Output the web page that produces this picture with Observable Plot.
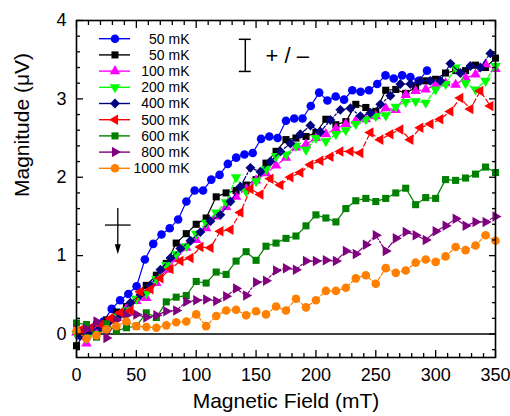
<!DOCTYPE html>
<html><head><meta charset="utf-8">
<script src="https://cdn.jsdelivr.net/npm/d3@7"></script>
<script src="https://cdn.jsdelivr.net/npm/@observablehq/plot@0.6"></script>
<style>
body{margin:0;background:#fff}
svg{font-family:"Liberation Sans",Arial,sans-serif}
</style>
</head><body><div id="chart"></div>
<script>
// ---- x grids (mT) ----
const xA = [0,8.3,16.7,25,33.3,41.7,50,58.3,66.7,75,83.3,91.7,100,108.3,116.7,125,133.3,141.7,150,158.3,166.7,175,183.3,191.7,200,208.3,216.7,225,233.3,241.7,250,258.3,266.7,275,283.3,291.7,300,308.3,316.7,325,333.3,341.7,350];
const xB = [3.3,11.7,20.0,28.4,36.7,45.1,53.4,61.8,70.1,78.5,86.8,95.2,103.5,111.9,120.2,128.6,136.9,145.3,153.6,162.0,170.3,178.7,187.0,195.4,203.7,212.1,220.4,228.8,237.1,245.5,253.8,262.2,270.5,278.9,287.2,295.6,303.9,312.3,320.6,329.0,337.3,345.7];
const xC = [1.7,8.6,15.6,22.5,29.4,36.4,43.3,50.2,57.1,64.1,71.0,77.9,84.9,91.8,98.7,105.7,112.6,119.5,126.4,133.4,140.3,147.2,154.2,161.1,168.0,175.0,181.9,188.8,195.7,202.7,209.6,216.5,223.5,230.4,237.3,244.3,251.2,258.1,265.0,272.0,278.9,285.8,292.8];

// ---- magnitudes (µV) ----
const y50a = [-0.02,0.05,0.08,0.16,0.32,0.43,0.51,0.61,0.95,1.15,1.27,1.35,1.46,1.69,1.83,1.83,1.97,2.03,2.17,2.25,2.29,2.31,2.49,2.52,2.50,2.72,2.75,2.75,2.91,3.08,2.98,3.03,2.99,3.11,3.09,3.11,3.19,3.30,3.26,3.30,3.28,3.23,3.36];
const y50b = [-0.15,0.05,0.12,0.18,0.28,0.35,0.44,0.62,0.75,0.90,1.16,1.28,1.40,1.48,1.75,1.80,1.83,1.90,1.97,2.18,2.33,2.48,2.50,2.52,2.57,2.74,2.67,2.71,2.93,2.89,2.84,3.11,3.12,3.07,3.15,3.23,3.25,3.33,3.36,3.36,3.43,3.40,3.52];
const y100 = [0.02,-0.12,0.05,0.12,0.22,0.32,0.42,0.46,0.65,0.82,0.96,1.10,1.20,1.35,1.50,1.62,1.75,1.85,1.96,2.05,2.15,2.25,2.38,2.42,2.50,2.55,2.62,2.68,2.72,2.74,2.78,2.88,2.86,3.05,3.10,3.12,3.18,3.20,3.18,3.27,3.31,3.44,3.38];
const y200 = [0.0,-0.05,0.0,0.12,0.22,0.30,0.45,0.52,0.70,0.88,1.02,1.12,1.28,1.42,1.55,1.68,2.00,1.82,1.95,2.10,2.27,2.29,2.40,2.35,2.50,2.46,2.55,2.60,2.68,2.74,2.78,2.79,2.90,2.96,2.97,2.95,3.12,3.19,3.40,3.20,3.12,3.23,3.42];
const y400 = [-0.02,0.05,0.08,0.17,0.25,0.40,0.50,0.62,0.82,0.97,1.09,1.19,1.30,1.44,1.52,1.69,1.88,2.12,2.07,2.20,2.33,2.43,2.55,2.66,2.58,2.73,2.86,2.88,2.78,2.82,2.93,3.04,3.19,3.19,3.23,3.23,3.23,3.45,3.33,3.42,3.40,3.58];
const y500 = [0.05,0.08,0.12,0.20,0.27,0.30,0.54,0.57,0.71,0.83,0.93,0.97,1.11,1.10,1.31,1.33,1.55,1.85,1.78,1.98,1.90,2.00,2.06,2.16,2.21,2.26,2.33,2.33,2.31,2.57,2.48,2.55,2.61,2.48,2.63,2.68,2.74,2.84,3.01,2.87,3.10,2.91];
const y600 = [0.14,0.12,-0.04,0.13,0.04,0.08,0.10,0.27,0.21,0.41,0.47,0.49,0.67,0.65,0.79,0.76,0.93,1.05,0.94,1.12,1.16,1.22,1.25,1.38,1.52,1.48,1.43,1.60,1.70,1.73,1.69,1.73,1.80,1.86,1.65,1.74,1.73,1.97,1.96,1.99,2.04,2.13,2.06];
const y800 = [0.05,0.06,0.16,-0.05,0.18,0.24,0.25,0.21,0.24,0.29,0.30,0.41,0.43,0.44,0.42,0.48,0.58,0.49,0.66,0.68,0.81,0.84,0.82,0.93,0.93,0.94,0.93,1.06,1.02,1.14,1.26,1.06,1.22,1.30,1.26,1.20,1.31,1.38,1.47,1.38,1.43,1.43,1.50];
const y1000 = [0.04,-0.06,-0.02,0.06,0.10,0.16,0.10,0.09,0.08,0.11,0.15,0.16,0.25,0.10,0.23,0.30,0.31,0.24,0.29,0.25,0.35,0.30,0.45,0.34,0.43,0.55,0.55,0.59,0.71,0.75,0.64,0.84,0.78,0.81,0.91,0.95,0.92,0.99,1.11,1.07,1.13,1.26,1.19];

const names = ["50 mK","50 mK","100 mK","200 mK","400 mK","500 mK","600 mK","800 mK","1000 mK"];
const colors = ["#0000ff","#000000","#ff00ff","#00ff00","#000080","#ff0000","#008000","#800080","#ff8000"];
const xTicks = [0,50,100,150,200,250,300,350];
const xMinor = [10,20,30,40,60,70,80,90,110,120,130,140,160,170,180,190,210,220,230,240,260,270,280,290,310,320,330,340];
const yTicks = [0,1,2,3,4];
const yMinor = [-0.2,0.2,0.4,0.6,0.8,1.2,1.4,1.6,1.8,2.2,2.4,2.6,2.8,3.2,3.4,3.6,3.8];

const diamond = {draw(ctx, size){ const s = Math.sqrt(size)/2*1.55; ctx.moveTo(0,-s); ctx.lineTo(s,0); ctx.lineTo(0,s); ctx.lineTo(-s,0); ctx.closePath(); }};
const arrowHead = {draw(ctx){ ctx.moveTo(0,5); ctx.lineTo(-3,-5); ctx.lineTo(3,-5); ctx.closePath(); }};

const series = [
  {x:xC, y:y50a,  sym:"circle",   rot:0,   r:4.3, dash:null},
  {x:xA, y:y50b,  sym:"square",   rot:0,   r:4.0, dash:null},
  {x:xA, y:y100,  sym:"triangle", rot:0,   r:3.9, dash:"4,2"},
  {x:xA, y:y200,  sym:"triangle", rot:180, r:3.9, dash:"4,2"},
  {x:xB, y:y400,  sym:diamond,    rot:0,   r:3.6, dash:"6,2,2,2"},
  {x:xB, y:y500,  sym:"triangle", rot:-90, r:3.9, dash:"5,3"},
  {x:xA, y:y600,  sym:"square",   rot:0,   r:4.0, dash:null},
  {x:xA, y:y800,  sym:"triangle", rot:90,  r:3.9, dash:"6,2,2,2"},
  {x:xA, y:y1000, sym:"circle",   rot:0,   r:4.3, dash:"3,2"}
].map((s,i)=>({...s, name:names[i], color:colors[i], data:s.x.map((x,j)=>({x, y:s.y[j]}))}));

const marks = [
  Plot.ruleY([0], {stroke:"#000", strokeWidth:1.5}),
  // annotations
  Plot.ruleX([141], {y1:3.35, y2:3.76, stroke:"#000", strokeWidth:1.5}),
  Plot.ruleY([3.35,3.76], {x1:136, x2:146, stroke:"#000", strokeWidth:1.5}),
  Plot.text(["+ / \u2013"], {x:176, y:3.55, fontSize:22, fill:"#000"}),
  Plot.ruleY([1.39], {x1:24.2, x2:45.7, stroke:"#000", strokeWidth:1.3}),
  Plot.ruleX([34.5], {y1:1.60, y2:1.12, stroke:"#000", strokeWidth:1.3}),
  Plot.dot([0], {x:()=>34.5, y:()=>1.08, symbol:arrowHead, fill:"#000", stroke:"none"}),
];
for (const s of series) {
  marks.push(Plot.line(s.data, {x:"x", y:"y", stroke:s.color, strokeWidth:1.2, strokeDasharray:s.dash}));
  marks.push(Plot.dot(s.data, {x:"x", y:"y", symbol:s.sym, rotate:s.rot, r:s.r, fill:s.color, stroke:"none"}));
}
marks.push(
  Plot.frame({stroke:"#000", strokeWidth:1.6}),
  Plot.axisX({anchor:"bottom", ticks:xTicks, tickSize:0, tickPadding:11, fontSize:18, label:null, tickFormat:"d"}),
  Plot.axisX({anchor:"bottom", ticks:xTicks, tickSize:-7, tickFormat:()=>"", label:null, strokeWidth:1.3}),
  Plot.axisX({anchor:"bottom", ticks:xMinor, tickSize:-4, tickFormat:()=>"", label:null, strokeWidth:1.3}),
  Plot.axisX({anchor:"top", ticks:xTicks, tickSize:-7, tickFormat:()=>"", label:null, strokeWidth:1.3}),
  Plot.axisX({anchor:"top", ticks:xMinor, tickSize:-4, tickFormat:()=>"", label:null, strokeWidth:1.3}),
  Plot.axisY({anchor:"left", ticks:yTicks, tickSize:0, tickPadding:10, fontSize:18, label:null, tickFormat:"d"}),
  Plot.axisY({anchor:"left", ticks:yTicks, tickSize:-7, tickFormat:()=>"", label:null, strokeWidth:1.3}),
  Plot.axisY({anchor:"left", ticks:yMinor, tickSize:-4, tickFormat:()=>"", label:null, strokeWidth:1.3}),
  Plot.axisY({anchor:"right", ticks:yTicks, tickSize:-7, tickFormat:()=>"", label:null, strokeWidth:1.3}),
  Plot.axisY({anchor:"right", ticks:yMinor, tickSize:-4, tickFormat:()=>"", label:null, strokeWidth:1.3}),
  Plot.text(["Magnetic Field (mT)"], {frameAnchor:"bottom", dy:50, fontSize:21, fill:"#000"}),
  Plot.text(["Magnitude (\u03bcV)"], {frameAnchor:"left", dx:-54, dy:8, rotate:-90, fontSize:21, fill:"#000"})
);

const chart = Plot.plot({
  width:510, height:416,
  marginLeft:76, marginRight:15, marginTop:20, marginBottom:59,
  x:{domain:[0,350]},
  y:{domain:[-0.3,4]},
  style:{fontFamily:'"Liberation Sans",Arial,sans-serif', fontSize:"17px", color:"#000", background:"#fff"},
  marks
});
document.getElementById("chart").appendChild(chart);

// legend (inside plot, top-left)
const svg = d3.select(chart);
const lg = svg.append("g").attr("class","legend");
series.forEach((s,i)=>{
  const y = 38.7 + 16.2*i;
  const g = lg.append("g").attr("transform",`translate(0,${y})`);
  g.append("line").attr("x1",99).attr("x2",130).attr("y1",0).attr("y2",0)
    .attr("stroke",s.color).attr("stroke-width",1.4);
  const type = typeof s.sym === "string" ? {circle:d3.symbolCircle,square:d3.symbolSquare,triangle:d3.symbolTriangle}[s.sym] : s.sym;
  g.append("path").attr("d", d3.symbol(type, Math.PI*s.r*s.r)())
    .attr("transform",`translate(115,0) rotate(${s.rot})`).attr("fill",s.color);
  g.append("text").attr("x",189.5).attr("y",0).attr("dy","0.35em").attr("text-anchor","end")
    .attr("font-size",14).attr("fill","#000").text(s.name);
});
</script>
</body></html>
